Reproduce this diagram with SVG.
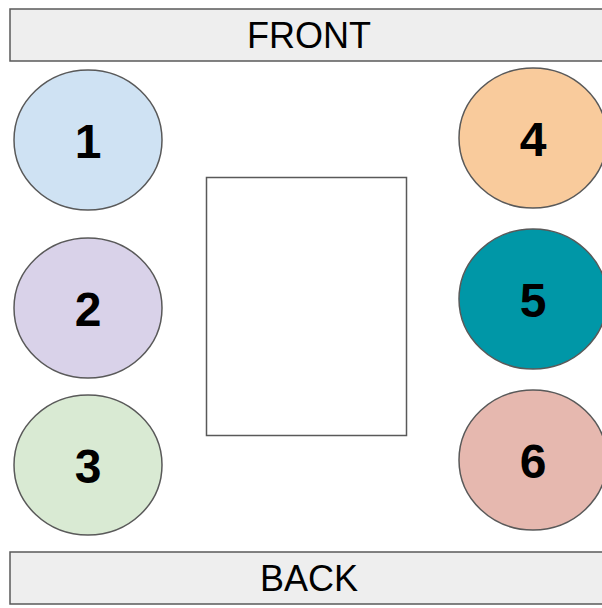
<svg xmlns="http://www.w3.org/2000/svg" width="602" height="608" viewBox="0 0 602 608">
<style>
.bar{fill:#eeeeee;stroke:#595959;stroke-width:1.5}
.seat{stroke:#595959;stroke-width:1.5}
.lbl{font-family:"Liberation Sans",Arial,sans-serif;font-size:36px;fill:#000;text-anchor:middle}
.num{font-family:"Liberation Sans",Arial,sans-serif;font-size:48px;font-weight:bold;fill:#000;text-anchor:middle}
</style>
<rect width="602" height="608" fill="#ffffff"/>
<g id="front"><rect class="bar" x="10" y="9" width="600" height="52"/><text class="lbl" x="309" y="48">FRONT</text></g>
<g id="back"><rect class="bar" x="10" y="552" width="600" height="52"/><text class="lbl" x="309" y="591">BACK</text></g>
<g id="table"><rect x="206.5" y="177.5" width="200" height="258" fill="#ffffff" stroke="#595959" stroke-width="1.5"/></g>
<g id="seat1"><ellipse class="seat" cx="88" cy="140" rx="74" ry="70" fill="#cfe2f3"/><text class="num" x="88" y="158">1</text></g>
<g id="seat2"><ellipse class="seat" cx="88" cy="308" rx="74" ry="70" fill="#d9d2e9"/><text class="num" x="88" y="326">2</text></g>
<g id="seat3"><ellipse class="seat" cx="88" cy="465" rx="74" ry="70" fill="#d9ead3"/><text class="num" x="88" y="483">3</text></g>
<g id="seat4"><ellipse class="seat" cx="533" cy="138" rx="74" ry="70" fill="#f9cb9c"/><text class="num" x="533" y="156">4</text></g>
<g id="seat5"><ellipse class="seat" cx="533" cy="299" rx="74" ry="70" fill="#0097a7"/><text class="num" x="533" y="317">5</text></g>
<g id="seat6"><ellipse class="seat" cx="533" cy="460" rx="74" ry="70" fill="#e6b8af"/><text class="num" x="533" y="478">6</text></g>
<g id="connectors"></g>
</svg>
